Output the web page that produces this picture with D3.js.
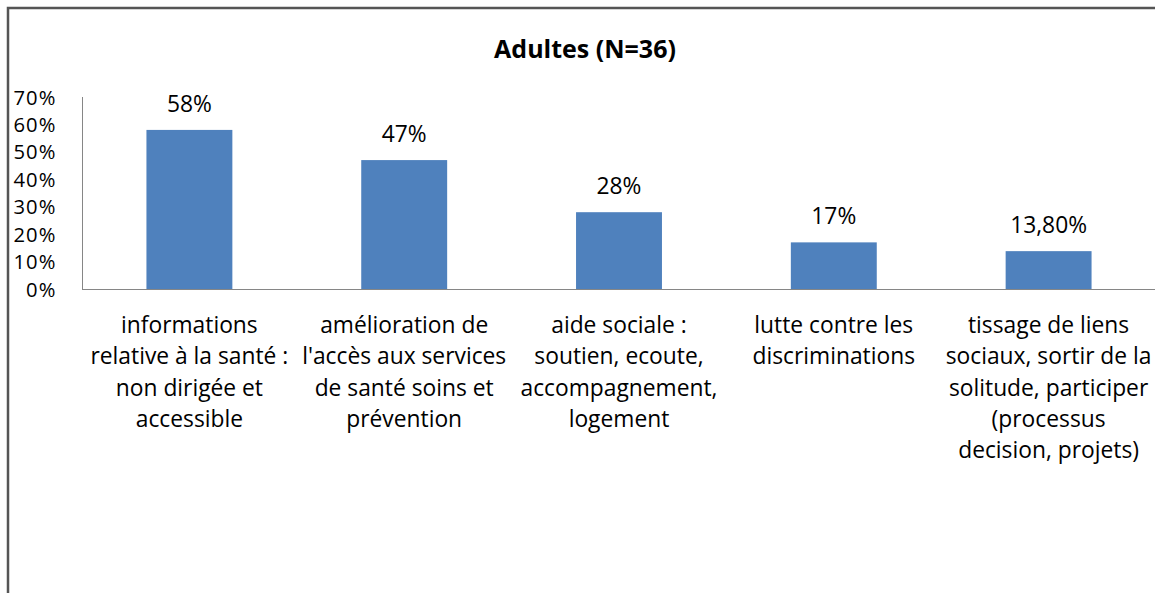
<!DOCTYPE html>
<html><head><meta charset="utf-8">
<script src="https://cdn.jsdelivr.net/npm/d3@7"></script>
<style>
html,body{margin:0;padding:0;background:#fff;}
svg{display:block;font-family:"Open Sans",sans-serif;}
</style></head>
<body>
<svg id="c" width="1155" height="593"></svg>
<script>
const title = "Adultes (N=36)";
const categories = [
  "informations\nrelative à la santé :\nnon dirigée et\naccessible",
  "amélioration de\nl'accès aux services\nde santé soins et\nprévention",
  "aide sociale :\nsoutien, ecoute,\naccompagnement,\nlogement",
  "lutte contre les\ndiscriminations",
  "tissage de liens\nsociaux, sortir de la\nsolitude, participer\n(processus\ndecision, projets)"
];
const values = [0.58, 0.47, 0.28, 0.17, 0.138];
const valueLabels = ["58%", "47%", "28%", "17%", "13,80%"];
const yTicks = [0, 0.1, 0.2, 0.3, 0.4, 0.5, 0.6, 0.7];
const yTickLabels = ["0%", "10%", "20%", "30%", "40%", "50%", "60%", "70%"];

const svg = d3.select("#c");
const fs = 22.8;

// outer border
svg.append("rect").attr("x", 8).attr("y", 8).attr("width", 1200).attr("height", 700)
  .attr("fill", "none").attr("stroke", "#555555").attr("stroke-width", 2.5);

svg.append("text").attr("x", 585).attr("y", 58).attr("text-anchor", "middle")
  .attr("font-weight", "bold").attr("font-size", 25).attr("fill", "#000").text(title);

const x = d3.scaleBand().domain(d3.range(categories.length)).range([82, 1156])
  .paddingInner(0.6).paddingOuter(0.3);
const y = d3.scaleLinear().domain([0, 0.7]).range([289, 97]);

// y axis
const yAxis = d3.axisLeft(y).tickValues(yTicks).tickSize(0).tickPadding(26)
  .tickFormat((d, i) => yTickLabels[i]);
const ga = svg.append("g").attr("transform", "translate(82.5,0)").call(yAxis);
ga.select(".domain").attr("stroke", "#868686").attr("d", `M0,${y(0.7)}V${y(0)}`);
ga.selectAll("text").attr("font-size", 20.2).attr("letter-spacing", "1.1px").attr("fill", "#000")
  .attr("font-family", "Open Sans").attr("dy", "0.35em");

// bars
svg.selectAll("rect.bar").data(values).join("rect").attr("class", "bar")
  .attr("x", (d, i) => x(i)).attr("width", x.bandwidth())
  .attr("y", d => y(d)).attr("height", d => y(0) - y(d))
  .attr("fill", "#4f81bd");

// baseline
svg.append("line").attr("x1", 82).attr("x2", 1156).attr("y1", 289.5).attr("y2", 289.5)
  .attr("stroke", "#868686").attr("stroke-width", 1);

// value labels
svg.selectAll("text.val").data(values).join("text").attr("class", "val")
  .attr("x", (d, i) => x(i) + x.bandwidth() / 2).attr("y", d => y(d) - 18)
  .attr("text-anchor", "middle").attr("font-size", fs).attr("fill", "#000")
  .text((d, i) => valueLabels[i]);

// category labels
categories.forEach((c, i) => {
  const t = svg.append("text").attr("text-anchor", "middle").attr("font-size", fs).attr("fill", "#000");
  c.split("\n").forEach((ln, j) => {
    t.append("tspan").attr("x", x(i) + x.bandwidth() / 2).attr("y", 333 + j * 31.3).text(ln);
  });
});
</script>
</body></html>
